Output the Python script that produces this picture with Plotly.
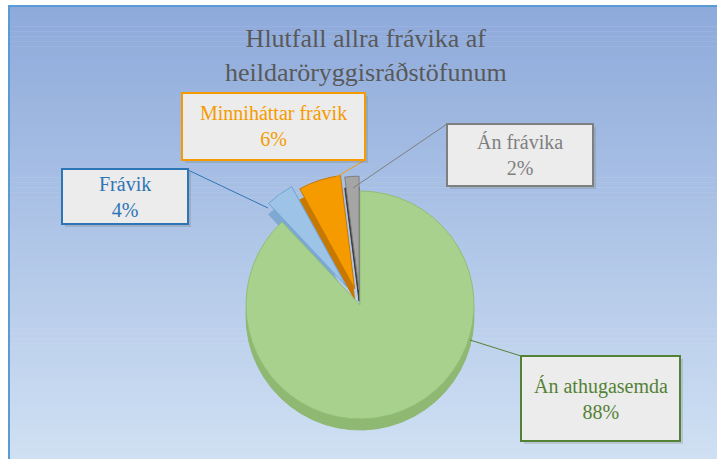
import plotly.graph_objects as go

W, H = 717, 459

# ---- data ----
categories = ["Án athugasemda", "Frávik", "Minniháttar frávik", "Án frávika"]
values = [88, 4, 6, 2]
pct_labels = ["88%", "4%", "6%", "2%"]
slice_colors = ["#a9d18e", "#9dc3e6", "#f59b00", "#a5a5a5"]
side_colors = ["#8fb872", "#7fa9d2", "#c77800", "#3a3a3a"]
line_colors = ["#8fbf73", "#6fa3d3", "#c77800", "#7f7f7f"]
text_colors = ["#548235", "#2e75b6", "#f59b00", "#7f7f7f"]
pulls = [0, 0.2, 0.15, 0.13]
title_text = "Hlutfall allra frávika af<br>heildaröryggisráðstöfunum"

SERIF = "Liberation Serif, Times New Roman, DejaVu Serif, serif"


def px(x):
    return x / W


def py(y):
    return 1 - y / H


shapes = []
# background gradient
top = (0x8e, 0xaa, 0xdb)
bot = (0xcf, 0xe0, 0xf3)
y0, y1 = 6, 459
n = 90
for i in range(n):
    t = i / (n - 1)
    c = tuple(round(top[k] + (bot[k] - top[k]) * t) for k in range(3))
    ya = y0 + (y1 - y0) * i / n
    yb = y0 + (y1 - y0) * (i + 1) / n + 0.6
    shapes.append(dict(type="rect", xref="paper", yref="paper", layer="below",
                       x0=px(9), x1=px(717), y0=py(ya), y1=py(min(yb, 459)),
                       line=dict(width=0), fillcolor="rgb(%d,%d,%d)" % c))
shapes.append(dict(type="rect", xref="paper", yref="paper", layer="below",
                   x0=px(9), x1=px(718), y0=py(6), y1=py(462),
                   line=dict(color="#5b9bd5", width=2), fillcolor="rgba(0,0,0,0)"))

# label boxes (x0, y0, x1, y1) in pixels, matching category order
boxes = [(521, 356, 680, 441), (62, 169, 188, 224), (182, 93, 365, 160), (447, 124, 593, 186)]
# leader lines: from box point to slice point
leaders = [((521, 356), (470, 340)), ((188, 170), (268, 208)),
           ((365, 160), (311, 192)), ((447, 124), (353, 188))]

for i, (a, b) in enumerate(leaders):
    shapes.append(dict(type="line", xref="paper", yref="paper", layer="above",
                       x0=px(a[0]), y0=py(a[1]), x1=px(b[0]), y1=py(b[1]),
                       line=dict(color=text_colors[i], width=1)))

annotations = []
for i, (bx0, by0, bx1, by1) in enumerate(boxes):
    shapes.append(dict(type="rect", xref="paper", yref="paper", layer="above",
                       x0=px(bx0 + 3), x1=px(bx1 + 3), y0=py(by0 + 3), y1=py(by1 + 3),
                       line=dict(width=0), fillcolor="rgba(90,90,60,0.18)"))
    shapes.append(dict(type="rect", xref="paper", yref="paper", layer="above",
                       x0=px(bx0), x1=px(bx1), y0=py(by0), y1=py(by1),
                       line=dict(color=text_colors[i], width=2), fillcolor="#ececec"))
    annotations.append(dict(xref="paper", yref="paper", x=px((bx0 + bx1) / 2),
                            y=py((by0 + by1) / 2), showarrow=False,
                            text=categories[i] + "<br>" + pct_labels[i],
                            font=dict(family=SERIF, size=20, color=text_colors[i]),
                            xanchor="center", yanchor="middle"))

annotations.append(dict(xref="paper", yref="paper", x=px(366), y=py(56), showarrow=False,
                        text=title_text, xanchor="center", yanchor="middle",
                        font=dict(family=SERIF, size=26, color="#595959")))

r = 114
maxpull = max(pulls)
half = r * (1 + maxpull)
cx, cy = 360, 305
depth = 11


def dom(dy):
    return dict(x=[px(cx - half), px(cx + half)],
                y=[py(cy + dy + half), py(cy + dy - half)])


fig = go.Figure()
# side (thickness) of the 3D pie
fig.add_trace(go.Pie(
    labels=categories, values=values, sort=False, direction="clockwise", rotation=0,
    pull=pulls, textinfo="none", hoverinfo="skip",
    marker=dict(colors=side_colors, line=dict(color=side_colors, width=1)),
    domain=dom(depth), showlegend=False,
))
# top surface
fig.add_trace(go.Pie(
    labels=categories, values=values, sort=False, direction="clockwise", rotation=0,
    pull=pulls, textinfo="none", hoverinfo="label+percent",
    marker=dict(colors=slice_colors, line=dict(color=line_colors, width=1)),
    domain=dom(0), showlegend=False,
))

fig.update_layout(
    width=W, height=H, margin=dict(l=0, r=0, t=0, b=0),
    paper_bgcolor="white", plot_bgcolor="rgba(0,0,0,0)",
    font=dict(family=SERIF),
    shapes=shapes, annotations=annotations, showlegend=False,
)

fig.write_html("out.html")
